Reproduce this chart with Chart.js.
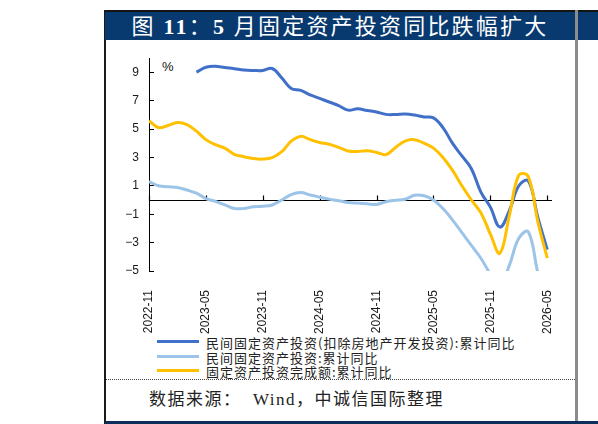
<!DOCTYPE html>
<html lang="zh-CN">
<head>
<meta charset="utf-8">
<title>图 11：5 月固定资产投资同比跌幅扩大</title>
<script src="https://cdn.jsdelivr.net/npm/chart.js@4.4.1/dist/chart.umd.min.js"></script>
<style>
  html, body { margin: 0; padding: 0; background: #fff; }
  .page { position: relative; width: 598px; height: 424px; overflow: hidden; }
  .edge-left { position: absolute; left: 104px; top: 10px; width: 2px; height: 414px; background: #1a1a1a; }
  .head {
    position: absolute; left: 105px; top: 10px; width: 470px; height: 28px;
    background: #083a70; border-top: 2px solid #151515;
    color: #fff; font-family: "Liberation Serif", "Noto Sans CJK SC", serif;
    font-weight: normal; font-size: 22px; letter-spacing: 2.2px;
    line-height: 29px; text-align: center; white-space: pre;
  }
  .head b { font-weight: bold; }
  .head-next { position: absolute; left: 578px; top: 10px; width: 20px; height: 28px; background: #083a70; border-top: 2px solid #151515; }
  .divider { position: absolute; left: 575px; top: 10px; width: 3px; height: 414px; background: #8c8c8c; }
  .foot-bar { position: absolute; left: 105px; top: 421px; width: 493px; height: 3px; background: #0b2f5a; }
  .dots { position: absolute; left: 106px; top: 379px; width: 469px; border-top: 1px dotted #444; }
  .source {
    position: absolute; left: 149px; top: 390px; font-size: 17px; line-height: 20px;
    letter-spacing: 1.5px; color: #222; white-space: pre;
    font-family: "Liberation Serif", "Noto Sans CJK SC", serif;
  }
  .unit { position: absolute; left: 162px; top: 59px; font: 13px "Liberation Sans", Arial, sans-serif; color: #111; }
  .legend { position: absolute; left: 157px; top: 333px; }
  .legend div { height: 14.5px; line-height: 14.5px; white-space: nowrap; }
  .legend i { display: inline-block; width: 42px; height: 3px; vertical-align: middle; margin-right: 7px; position: relative; top: -1px; }
  .legend span { font: 13px "Noto Sans CJK SC", sans-serif; letter-spacing: 1px; color: #222; vertical-align: middle; }
  canvas { position: absolute; left: 0; top: 0; }
</style>
</head>
<body>
<div class="page">
  <div class="edge-left"></div>
  <div class="head">图 <b>11</b>：<b>5</b> 月固定资产投资同比跌幅扩大</div>
  <div class="head-next"></div>
  <div class="divider"></div>
  <div class="dots"></div>
  <div class="foot-bar"></div>
  <div class="source">数据来源：  Wind，中诚信国际整理</div>
  <div class="unit">%</div>
  <div class="legend" id="legend"></div>
  <canvas id="chart" width="598" height="424"></canvas>
</div>
<script>
// 月份（2022-11 ~ 2026-05），x 轴每 6 个月标一次
const months = [
  '2022-11', '2022-12', '2023-01', '2023-02', '2023-03', '2023-04', '2023-05', '2023-06', '2023-07', '2023-08',
  '2023-09', '2023-10', '2023-11', '2023-12', '2024-01', '2024-02', '2024-03', '2024-04', '2024-05', '2024-06',
  '2024-07', '2024-08', '2024-09', '2024-10', '2024-11', '2024-12', '2025-01', '2025-02', '2025-03', '2025-04',
  '2025-05', '2025-06', '2025-07', '2025-08', '2025-09', '2025-10', '2025-11', '2025-12', '2026-01', '2026-02',
  '2026-03', '2026-04', '2026-05'
];
const xTickIdx = [0, 6, 12, 18, 24, 30, 36, 42];
const yTicks = [-5, -3, -1, 1, 3, 5, 7, 9];

// 民间固定资产投资(扣除房地产开发投资):累计同比
const privateExRE = [
  null, null, null, null, null, 9.0, 9.35, 9.42, 9.33, 9.25,
  9.15, 9.12, 9.12, 9.26, 8.6, 7.85, 7.72, 7.4, 7.15, 6.9,
  6.65, 6.33, 6.42, 6.3, 6.2, 6.03, 6.02, 6.05, 5.98, 5.85,
  5.78, 5.1, 4.0, 3.1, 2.2, 0.55, -0.5, -1.9, -0.75, 1.0,
  1.35, -1.2, -3.5
];
// 民间固定资产投资:累计同比
const privateAll = [
  1.3, 1.0, 0.93, 0.88, 0.7, 0.48, 0.1, -0.1, -0.35, -0.6,
  -0.6, -0.47, -0.44, -0.35, 0.0, 0.38, 0.52, 0.35, 0.2, 0.06,
  -0.05, -0.18, -0.22, -0.27, -0.31, -0.12, -0.02, 0.05, 0.33, 0.3,
  0.0, -0.6, -1.4, -2.3, -3.2, -4.1, -5.2, -6.0, -4.6, -2.7,
  -2.24, -5.1, -7.5
];
// 固定资产投资完成额:累计同比
const faiTotal = [
  5.58, 5.1, 5.25, 5.45, 5.3, 4.85, 4.25, 3.9, 3.65, 3.22,
  3.05, 2.92, 2.88, 2.98, 3.4, 4.15, 4.48, 4.25, 4.05, 3.93,
  3.7, 3.45, 3.42, 3.46, 3.35, 3.2, 3.7, 4.15, 4.25, 4.0,
  3.65, 3.0, 2.1, 1.0, 0.0, -0.9, -2.4, -3.75, -1.1, 1.75,
  1.65, -1.5, -4.1
];

const series = [
  { label: '民间固定资产投资(扣除房地产开发投资):累计同比', data: privateExRE, color: '#4170c8', order: 2 },
  { label: '民间固定资产投资:累计同比', data: privateAll, color: '#9cc3e8', order: 3 },
  { label: '固定资产投资完成额:累计同比', data: faiTotal, color: '#ffc000', order: 1 },
];

const TICK_COLOR = '#1a1a1a';
const TICK_FONT = { family: '"Liberation Sans", Arial, sans-serif', size: 12 };

// 零轴 + 向上的小刻度（刻度位置取自 x 轴）
const zeroAxis = {
  id: 'zeroAxis',
  beforeDatasetsDraw(chart) {
    const { ctx, chartArea, scales: { x, y } } = chart;
    const y0 = Math.round(y.getPixelForValue(0)) + 0.5;
    ctx.save();
    ctx.strokeStyle = '#000';
    ctx.lineWidth = 1.2;
    ctx.beginPath();
    ctx.moveTo(chartArea.left, y0);
    ctx.lineTo(chartArea.right, y0);
    x.ticks.forEach((t) => {
      const px = Math.round(x.getPixelForValue(t.value)) + 0.5;
      ctx.moveTo(px, y0);
      ctx.lineTo(px, y0 - 5);
    });
    ctx.stroke();
    ctx.restore();
  },
};

new Chart(document.getElementById('chart'), {
  type: 'line',
  data: {
    datasets: series.map((s) => ({
      label: s.label,
      data: s.data.map((v, i) => ({ x: i, y: v })),
      borderColor: s.color,
      backgroundColor: s.color,
      borderWidth: 3,
      pointRadius: 0,
      tension: 0.4,
      fill: false,
      order: s.order,
    })),
  },
  options: {
    responsive: false,
    animation: false,
    layout: { padding: { left: 105, right: 46, top: 58, bottom: 83 } },
    plugins: { legend: { display: false }, tooltip: { enabled: false } },
    scales: {
      x: {
        type: 'linear',
        min: 0,
        max: 42.5,
        afterBuildTicks: (s) => { s.ticks = xTickIdx.map((v) => ({ value: v })); },
        afterFit: (s) => { s.height = 70; },
        grid: { display: false },
        border: { display: false },
        ticks: {
          autoSkip: false,
          maxRotation: 90,
          minRotation: 90,
          padding: 11,
          color: TICK_COLOR,
          font: TICK_FONT,
          callback: (v) => months[v],
        },
      },
      y: {
        min: -5,
        max: 10,
        afterBuildTicks: (s) => { s.ticks = yTicks.map((v) => ({ value: v })); },
        afterFit: (s) => { s.width = 44; },
        grid: { drawOnChartArea: false, tickLength: -5, color: '#000' },
        border: { color: '#000', width: 1 },
        ticks: {
          padding: 15,
          color: TICK_COLOR,
          font: TICK_FONT,
          callback: (v) => String(v).replace('-', '\u2212'),
        },
      },
    },
  },
  plugins: [zeroAxis],
});

// 图例（与数据集同序）
const legendEl = document.getElementById('legend');
series.forEach((s) => {
  const row = document.createElement('div');
  const sw = document.createElement('i');
  sw.style.background = s.color;
  const txt = document.createElement('span');
  txt.textContent = s.label;
  row.append(sw, txt);
  legendEl.appendChild(row);
});
</script>
</body>
</html>
